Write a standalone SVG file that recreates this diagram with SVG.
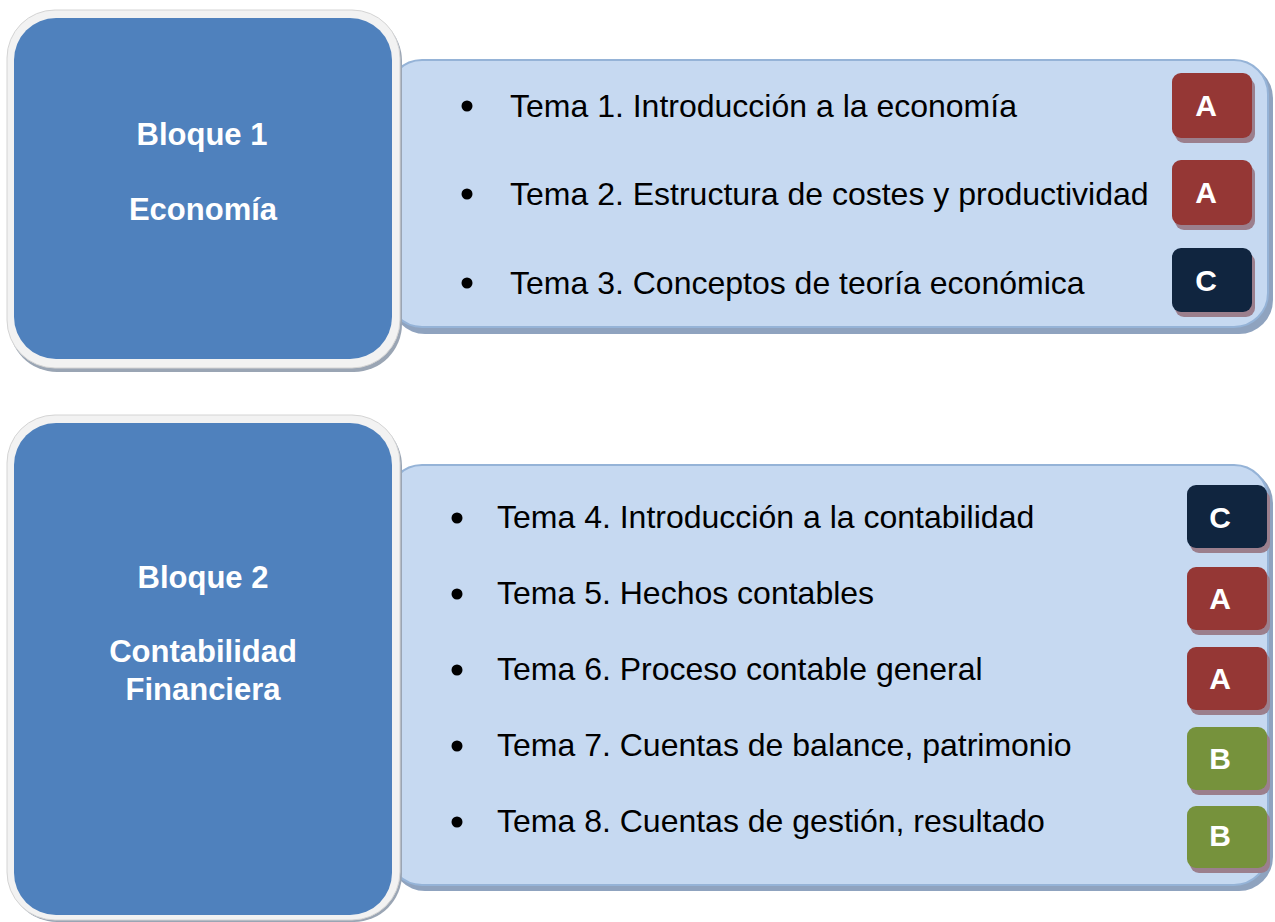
<svg xmlns="http://www.w3.org/2000/svg" width="1275" height="922" viewBox="0 0 1275 922">
<style>
.bg{fill:#ffffff}
.panel-sh{fill:#8fa3bf}
.panel{fill:#c6d9f1;stroke:#95b3d7;stroke-width:2}
.box-sh{fill:#9aa5b4}
.box-rim{fill:#f2f2f2;stroke:#d4d4d4;stroke-width:1}
.box{fill:#4f81bd}
.title{font-family:"Liberation Sans",Arial,sans-serif;font-weight:bold;font-size:31px;fill:#ffffff;text-anchor:middle}
.item{font-family:"Liberation Sans",Arial,sans-serif;font-size:32px;fill:#000000}
.bullet{fill:#000000}
.badge-sh{fill:#9b7f8d}
.red{fill:#953735}
.navy{fill:#10253f}
.green{fill:#76923c}
.letter{font-family:"Liberation Sans",Arial,sans-serif;font-weight:bold;font-size:30px;fill:#ffffff;text-anchor:middle}
</style>
<rect class="bg" x="0" y="0" width="1275" height="922"/>
<g id="connectors"></g>

<g id="panel1">
  <rect class="panel-sh" x="391" y="64" width="882" height="270" rx="34"/>
  <rect class="panel" x="388" y="60" width="880" height="267" rx="34"/>
  <circle class="bullet" cx="467" cy="106" r="5.5"/>
  <text class="item" x="510" y="117">Tema 1. Introducción a la economía</text>
  <circle class="bullet" cx="467" cy="194" r="5.5"/>
  <text class="item" x="510" y="205">Tema 2. Estructura de costes y productividad</text>
  <circle class="bullet" cx="467" cy="283" r="5.5"/>
  <text class="item" x="510" y="294">Tema 3. Conceptos de teoría económica</text>
</g>
<g id="block1">
  <rect class="box-sh" x="9" y="13" width="393" height="359" rx="48"/>
  <rect class="box-rim" x="7" y="10" width="393" height="358" rx="48"/>
  <rect class="box" x="14" y="18" width="378" height="341" rx="42"/>
  <text class="title" x="202" y="145">Bloque 1</text>
  <text class="title" x="203" y="220">Economía</text>
</g>
<g id="badges1">
  <rect class="badge-sh" x="1175" y="78" width="80" height="65" rx="9"/>
  <rect class="red" x="1172" y="73" width="80" height="65" rx="9"/>
  <text class="letter" x="1206" y="116">A</text>
  <rect class="badge-sh" x="1175" y="165" width="80" height="65" rx="9"/>
  <rect class="red" x="1172" y="160" width="80" height="65" rx="9"/>
  <text class="letter" x="1206" y="203">A</text>
  <rect class="badge-sh" x="1175" y="253" width="80" height="64" rx="9"/>
  <rect class="navy" x="1172" y="248" width="80" height="64" rx="9"/>
  <text class="letter" x="1206" y="291">C</text>
</g>

<g id="panel2">
  <rect class="panel-sh" x="391" y="469" width="882" height="422" rx="34"/>
  <rect class="panel" x="388" y="465" width="880" height="420" rx="34"/>
  <circle class="bullet" cx="457" cy="518" r="5.5"/>
  <text class="item" x="497" y="528">Tema 4. Introducción a la contabilidad</text>
  <circle class="bullet" cx="457" cy="594" r="5.5"/>
  <text class="item" x="497" y="604">Tema 5. Hechos contables</text>
  <circle class="bullet" cx="457" cy="670" r="5.5"/>
  <text class="item" x="497" y="680">Tema 6. Proceso contable general</text>
  <circle class="bullet" cx="457" cy="746" r="5.5"/>
  <text class="item" x="497" y="756">Tema 7. Cuentas de balance, patrimonio</text>
  <circle class="bullet" cx="457" cy="822" r="5.5"/>
  <text class="item" x="497" y="832">Tema 8. Cuentas de gestión, resultado</text>
</g>
<g id="block2">
  <rect class="box-sh" x="9" y="418" width="393" height="504" rx="48"/>
  <rect class="box-rim" x="7" y="415" width="393" height="505" rx="48"/>
  <rect class="box" x="14" y="423" width="378" height="492" rx="42"/>
  <text class="title" x="203" y="588">Bloque 2</text>
  <text class="title" x="203" y="662">Contabilidad</text>
  <text class="title" x="203" y="700">Financiera</text>
</g>
<g id="badges2">
  <rect class="badge-sh" x="1190" y="490" width="80" height="63" rx="9"/>
  <rect class="navy" x="1187" y="485" width="80" height="63" rx="9"/>
  <text class="letter" x="1220" y="528">C</text>
  <rect class="badge-sh" x="1190" y="572" width="80" height="63" rx="9"/>
  <rect class="red" x="1187" y="567" width="80" height="63" rx="9"/>
  <text class="letter" x="1220" y="609">A</text>
  <rect class="badge-sh" x="1190" y="652" width="80" height="63" rx="9"/>
  <rect class="red" x="1187" y="647" width="80" height="63" rx="9"/>
  <text class="letter" x="1220" y="689">A</text>
  <rect class="badge-sh" x="1190" y="732" width="80" height="63" rx="9"/>
  <rect class="green" x="1187" y="727" width="80" height="63" rx="9"/>
  <text class="letter" x="1220" y="769">B</text>
  <rect class="badge-sh" x="1190" y="811" width="80" height="62" rx="9"/>
  <rect class="green" x="1187" y="806" width="80" height="62" rx="9"/>
  <text class="letter" x="1220" y="846">B</text>
</g>
</svg>
